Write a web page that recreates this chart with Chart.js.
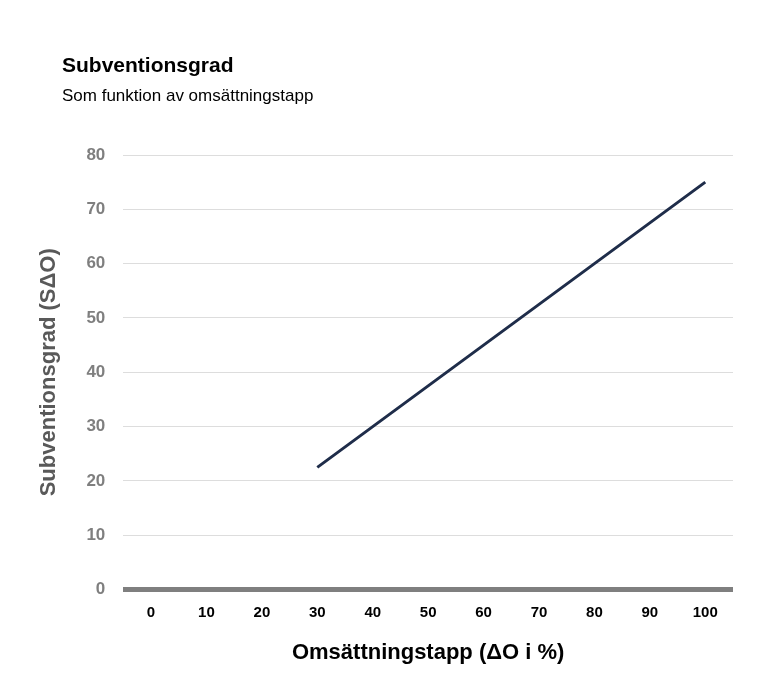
<!DOCTYPE html>
<html><head><meta charset="utf-8">
<script src="https://cdn.jsdelivr.net/npm/chart.js@4"></script>
<style>body{margin:0;background:#fff}#w{width:780px;height:680px}</style>
</head><body><div id="w"><canvas id="c"></canvas></div>
<script>
const categories=["0","10","20","30","40","50","60","70","80","90","100"];
const subvention=[null,null,null,22.5,30,37.5,45,52.5,60,67.5,75];
const yTicks=[0,10,20,30,40,50,60,70,80];
const F="'Liberation Sans', Arial, sans-serif";
const headerPlugin={id:'header',afterDraw(ch){const c=ch.ctx;c.save();c.fillStyle='#000';c.textBaseline='middle';c.textAlign='left';
c.font="bold 21px "+F;c.fillText('Subventionsgrad',62,66);
c.font="17px "+F;c.fillText('Som funktion av omsättningstapp',62,96);c.restore();}};
new Chart(document.getElementById('c'),{
type:'line',
data:{labels:categories,datasets:[{data:subvention,borderColor:'#1f2d4a',borderWidth:3,pointRadius:0,fill:false,spanGaps:false}]},
options:{responsive:true,maintainAspectRatio:false,animation:false,
layout:{padding:{left:32,right:47,top:155,bottom:10}},
plugins:{legend:{display:false},tooltip:{enabled:false}},
scales:{
x:{offset:true,grid:{display:false},border:{display:false},
ticks:{color:'#000',font:{family:F,size:15,weight:'bold'},padding:6},
title:{display:true,text:'Omsättningstapp (ΔO i %)',color:'#000',font:{family:F,size:22,weight:'bold'},padding:{top:12}}},
y:{min:0,max:80,afterBuildTicks:a=>{a.ticks=yTicks.map(v=>({value:v}));},
grid:{drawTicks:false,color:c=>c.tick.value===0?'#7f7f7f':'#dddddd',lineWidth:c=>c.tick.value===0?5:1},
border:{display:false},
ticks:{color:'#7f7f7f',font:{family:F,size:17,weight:'bold'},padding:18},
title:{display:true,text:'Subventionsgrad (SΔO)',color:'#595959',font:{family:F,size:22,weight:'bold'},padding:{bottom:6}}}}},
plugins:[headerPlugin]
});
</script></body></html>
